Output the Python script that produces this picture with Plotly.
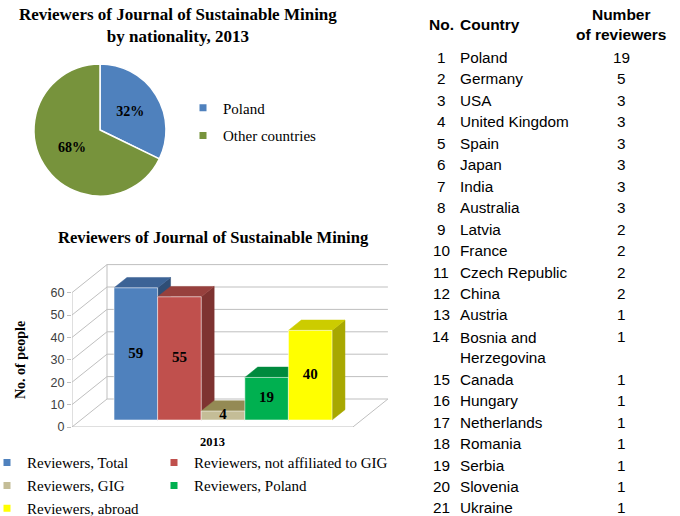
import plotly.graph_objects as go

FIG_W, FIG_H = 680, 516

# ---------------- data ----------------
pie_title = "Reviewers of Journal of Sustainable Mining<br>by nationality, 2013"
pie_labels = ["Poland", "Other countries"]
pie_values = [19, 40]
pie_colors = ["#4F81BD", "#77933C"]

bar_title = "Reviewers of Journal of Sustainable Mining"
bar_names = ["Reviewers, Total", "Reviewers, not affiliated to GIG", "Reviewers, GIG",
             "Reviewers, Poland", "Reviewers, abroad"]
bar_values = [59, 55, 4, 19, 40]
bar_category = "2013"
bar_front = ["#4F81BD", "#C0504D", "#C4BD97", "#00B050", "#FFFF00"]
bar_top = ["#3C6396", "#97403D", "#948A54", "#008A3E", "#CCCC00"]
bar_side = ["#2F4E76", "#7E3331", "#7A7246", "#006B30", "#A8A800"]
y_ticks = [0, 10, 20, 30, 40, 50, 60]
y_title = "No. of people"

tbl_header = ["No.", "Country", "Number<br>of reviewers"]
tbl_no = [1, 2, 3, 4, 5, 6, 7, 8, 9, 10, 11, 12, 13, 14, 15, 16, 17, 18, 19, 20, 21]
tbl_country = ["Poland", "Germany", "USA", "United Kingdom", "Spain", "Japan", "India",
               "Australia", "Latvia", "France", "Czech Republic", "China", "Austria",
               "Bosnia and<br>Herzegovina", "Canada", "Hungary", "Netherlands", "Romania",
               "Serbia", "Slovenia", "Ukraine"]
tbl_count = [19, 5, 3, 3, 3, 3, 3, 3, 2, 2, 2, 2, 1, 1, 1, 1, 1, 1, 1, 1, 1]

SERIF = "Liberation Serif, Times New Roman, serif"
SANS = "Liberation Sans, Arial, sans-serif"


def px(x):
    return x / FIG_W


def py(y):
    return 1 - y / FIG_H


fig = go.Figure()

# ---------------- pie ----------------
fig.add_trace(go.Pie(
    labels=pie_labels, values=pie_values, sort=False, direction="clockwise",
    marker=dict(colors=pie_colors, line=dict(color="white", width=1.5)),
    texttemplate="%{percent:.0%}", textposition="inside",
    insidetextorientation="horizontal",
    textfont=dict(family=SERIF, size=14, color="black", weight="bold"),
    domain=dict(x=[px(34), px(166)], y=[py(196), py(64)]),
    showlegend=False,
))

# ---------------- pseudo-3D column chart ----------------
SLOT_PX = 43.6          # pixels per column slot
UNIT_PX = 2.24          # pixels per person
XDOM_PX = (72, 400)
YDOM_PX = (259, 427)
FLOOR_L, FLOOR_R = -0.763, 5.68
DEPTH_X = 35 / SLOT_PX
DEPTH_Y = 28 / UNIT_PX
BAR_D0, BAR_D1 = 0.25, 0.62


def proj(u, v, d):
    return u + d * DEPTH_X, v + d * DEPTH_Y


def poly(points):
    pts = [proj(*p) for p in points]
    pts.append(pts[0])
    return [p[0] for p in pts], [p[1] for p in pts]


# walls and floor
wx, wy = [], []


def seg(a, b):
    (x0, y0), (x1, y1) = proj(*a), proj(*b)
    wx.extend([x0, x1, None])
    wy.extend([y0, y1, None])


top_tick = y_ticks[-1]
for t in y_ticks:
    seg((FLOOR_L, t, 0), (FLOOR_L, t, 1))
    seg((FLOOR_L, t, 1), (FLOOR_R, t, 1))
seg((FLOOR_L, 0, 0), (FLOOR_L, top_tick, 0))
seg((FLOOR_L, 0, 1), (FLOOR_L, top_tick, 1))
seg((FLOOR_L, 0, 0), (FLOOR_R, 0, 0))
seg((FLOOR_R, 0, 0), (FLOOR_R, 0, 1))

fig.add_trace(go.Scatter(x=wx, y=wy, mode="lines", line=dict(color="#BFBFBF", width=1),
                         hoverinfo="skip", showlegend=False))

for i, v in enumerate(bar_values):
    sx, sy = poly([(i + 1, 0, BAR_D0), (i + 1, v, BAR_D0), (i + 1, v, BAR_D1), (i + 1, 0, BAR_D1)])
    fig.add_trace(go.Scatter(x=sx, y=sy, mode="lines", fill="toself", fillcolor=bar_side[i],
                             line=dict(color=bar_side[i], width=0.5), hoverinfo="skip",
                             showlegend=False))
    tx, ty = poly([(i, v, BAR_D0), (i + 1, v, BAR_D0), (i + 1, v, BAR_D1), (i, v, BAR_D1)])
    fig.add_trace(go.Scatter(x=tx, y=ty, mode="lines", fill="toself", fillcolor=bar_top[i],
                             line=dict(color=bar_top[i], width=0.5), hoverinfo="skip",
                             showlegend=False))
    fx, fy = poly([(i, 0, BAR_D0), (i + 1, 0, BAR_D0), (i + 1, v, BAR_D0), (i, v, BAR_D0)])
    fig.add_trace(go.Scatter(x=fx, y=fy, mode="lines", fill="toself", fillcolor=bar_front[i],
                             line=dict(color="rgba(255,255,255,0.55)", width=1),
                             name=bar_names[i], hoveron="fills", showlegend=False))

# value labels
lx, ly = [], []
for i, v in enumerate(bar_values):
    x, y = proj(i + 0.5, v / 2, BAR_D0)
    lx.append(x)
    ly.append(y)
fig.add_trace(go.Scatter(x=lx, y=ly, mode="text", text=[str(v) for v in bar_values],
                         textfont=dict(family=SERIF, size=15, color="black", weight="bold"),
                         hoverinfo="skip", showlegend=False))

# ---------------- legends ----------------
legend_layout = {}
legend_items = []
pie_leg_pos = [(220, 108), (220, 135.7)]
for lab, col, pos in zip(pie_labels, pie_colors, pie_leg_pos):
    legend_items.append((lab, col, pos))
bar_leg_pos = [(24, 462.7), (191, 462.7), (24, 485.7), (191, 485.7), (24, 508.5)]
for lab, col, pos in zip(bar_names, bar_front, bar_leg_pos):
    legend_items.append((lab, col, pos))

for k, (lab, col, (tx0, ty0)) in enumerate(legend_items):
    key = "legend" if k == 0 else f"legend{k + 1}"
    fig.add_trace(go.Scatter(x=[None], y=[None], mode="markers", name=lab,
                             marker=dict(symbol="square", size=7, color=col),
                             legend=key, showlegend=True, hoverinfo="skip"))
    legend_layout[key] = dict(x=px(tx0 - 37), y=py(ty0), xanchor="left", yanchor="middle",
                              bgcolor="rgba(0,0,0,0)", borderwidth=0,
                              font=dict(family=SERIF, size=15, color="black"),
                              itemclick=False, itemdoubleclick=False)

# ---------------- annotations ----------------
ann = []
ann.append(dict(text=f"<b>{pie_title}</b>", x=px(178), y=py(25.5), xanchor="center",
                yanchor="middle", font=dict(family=SERIF, size=17, color="black")))
ann.append(dict(text=f"<b>{bar_title}</b>", x=px(213), y=py(238), xanchor="center",
                yanchor="middle", font=dict(family=SERIF, size=16.6, color="black")))
ann.append(dict(text=f"<b>{y_title}</b>", x=px(20), y=py(360), xanchor="center",
                yanchor="middle", textangle=-90, font=dict(family=SERIF, size=14, color="black")))

# table
COL_NO, COL_COUNTRY, COL_COUNT = 441, 458, 621
HEAD_Y = 25
ROW_PX = 21.45
ROW1_Y = 57.5
tfont = dict(family=SANS, size=15.3, color="black")
hfont = dict(family=SANS, size=15.5, color="black", weight="bold")
ann.append(dict(text=tbl_header[0], x=px(COL_NO), y=py(HEAD_Y), xanchor="center",
                yanchor="middle", font=hfont))
ann.append(dict(text=tbl_header[1], x=px(COL_COUNTRY), y=py(HEAD_Y), xanchor="left",
                yanchor="middle", font=hfont))
ann.append(dict(text=tbl_header[2], x=px(COL_COUNT), y=py(HEAD_Y), xanchor="center",
                yanchor="middle", font=hfont))
line = 0
for no, country, cnt in zip(tbl_no, tbl_country, tbl_count):
    n_lines = country.count("<br>") + 1
    y_first = ROW1_Y + line * ROW_PX
    y_mid = y_first + (n_lines - 1) * ROW_PX / 2
    ann.append(dict(text=str(no), x=px(COL_NO), y=py(y_first), xanchor="center",
                    yanchor="middle", font=tfont))
    ann.append(dict(text=country, x=px(COL_COUNTRY), y=py(y_mid), xanchor="left",
                    yanchor="middle", align="left", font=tfont))
    ann.append(dict(text=str(cnt), x=px(COL_COUNT), y=py(y_first), xanchor="center",
                    yanchor="middle", font=tfont))
    line += n_lines

for a in ann:
    a.update(xref="paper", yref="paper", showarrow=False)

fig.update_layout(
    width=FIG_W, height=FIG_H,
    margin=dict(l=0, r=0, t=0, b=0, autoexpand=False),
    paper_bgcolor="white", plot_bgcolor="white",
    showlegend=True,
    annotations=ann,
    xaxis=dict(domain=[px(XDOM_PX[0]), px(XDOM_PX[1])],
               range=[FLOOR_L, FLOOR_L + (XDOM_PX[1] - XDOM_PX[0]) / SLOT_PX],
               tickvals=[(FLOOR_L + FLOOR_R) / 2], ticktext=[f"<b>{bar_category}</b>"],
               showgrid=False, zeroline=False, showline=False, ticks="",
               ticklabelstandoff=5,
               tickfont=dict(family=SERIF, size=12.5, color="black"), fixedrange=True),
    yaxis=dict(domain=[py(YDOM_PX[1]), py(YDOM_PX[0])],
               range=[0, (YDOM_PX[1] - YDOM_PX[0]) / UNIT_PX],
               tickvals=y_ticks, ticks="outside", ticklen=4, tickcolor="#BFBFBF",
               tickfont=dict(family=SANS, size=12.5, color="#404040"),
               showgrid=False, zeroline=False, showline=False, fixedrange=True),
    **legend_layout,
)

fig.write_html("out.html", config={"displayModeBar": False},
               post_script="document.body.style.margin='0';")
